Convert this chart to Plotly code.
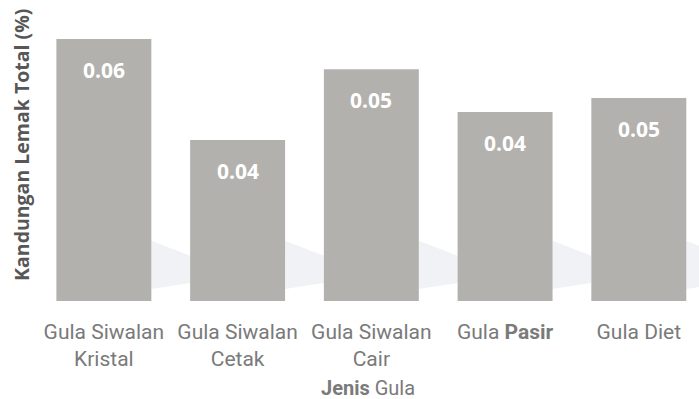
import plotly.graph_objects as go

# Kandungan lemak total per jenis gula
kategori = [
    "Gula Siwalan<br>Kristal",
    "Gula Siwalan<br>Cetak",
    "Gula Siwalan<br>Cair",
    "Gula <b>Pasir</b>",
    "Gula Diet",
]
lemak = [0.061, 0.0375, 0.054, 0.044, 0.0473]

warna_batang = "#b3b1ae"
warna_teks = "#7a7a7a"
lebar_batang = 0.71

fig = go.Figure()
fig.add_trace(go.Bar(
    x=list(range(len(kategori))),
    y=lemak,
    marker=dict(color=warna_batang, line=dict(width=0)),
    width=lebar_batang,
    hoverinfo="skip",
))

# bayangan tipis kebiruan di sela batang
h = lebar_batang / 2
for i in range(len(kategori)):
    x0, x1 = i + h, i + 1 - h
    fig.add_shape(
        type="path", layer="below", xref="x", yref="paper",
        path=f"M {x0} 0.20 L {x1} 0.15 L {x1} 0.06 L {x0} 0.04 Z",
        fillcolor="#e6e9f0", opacity=0.6, line=dict(width=0),
    )

# label nilai di dalam batang, dekat ujung atas
for i, v in enumerate(lemak):
    fig.add_annotation(
        x=i, y=v, xref="x", yref="y",
        text=f"<b>{v:.2f}</b>",
        showarrow=False, yanchor="middle", yshift=-31,
        font=dict(family="Open Sans", size=21, color="white"),
    )

# judul sumbu y
fig.add_annotation(
    x=-0.0227, y=0.06, xref="paper", yref="paper",
    xanchor="center", yanchor="bottom",
    text="<b>Kandungan Lemak Total (%)</b>",
    textangle=-90, showarrow=False,
    font=dict(family="Open Sans", size=19.5, color="#575757"),
)

# judul sumbu x
fig.add_annotation(
    x=0.5, y=-0.288, xref="paper", yref="paper",
    xanchor="center", yanchor="middle",
    text="<b>Jenis</b> Gula",
    showarrow=False,
    font=dict(family="Roboto", size=20, color=warna_teks),
)

fig.update_layout(
    width=699, height=399,
    margin=dict(l=37, r=0, t=0, b=98),
    paper_bgcolor="white", plot_bgcolor="white",
    showlegend=False,
    xaxis=dict(
        range=[-0.5, 4.45],
        tickmode="array",
        tickvals=list(range(len(kategori))),
        ticktext=kategori,
        showgrid=False, zeroline=False, showline=False, ticks="",
        ticklabelstandoff=16,
        tickfont=dict(family="Roboto", size=21, color=warna_teks),
    ),
    yaxis=dict(
        range=[0, 0.0701],
        showgrid=False, zeroline=False, showline=False,
        showticklabels=False, ticks="",
    ),
)

fig.write_html("out.html")
